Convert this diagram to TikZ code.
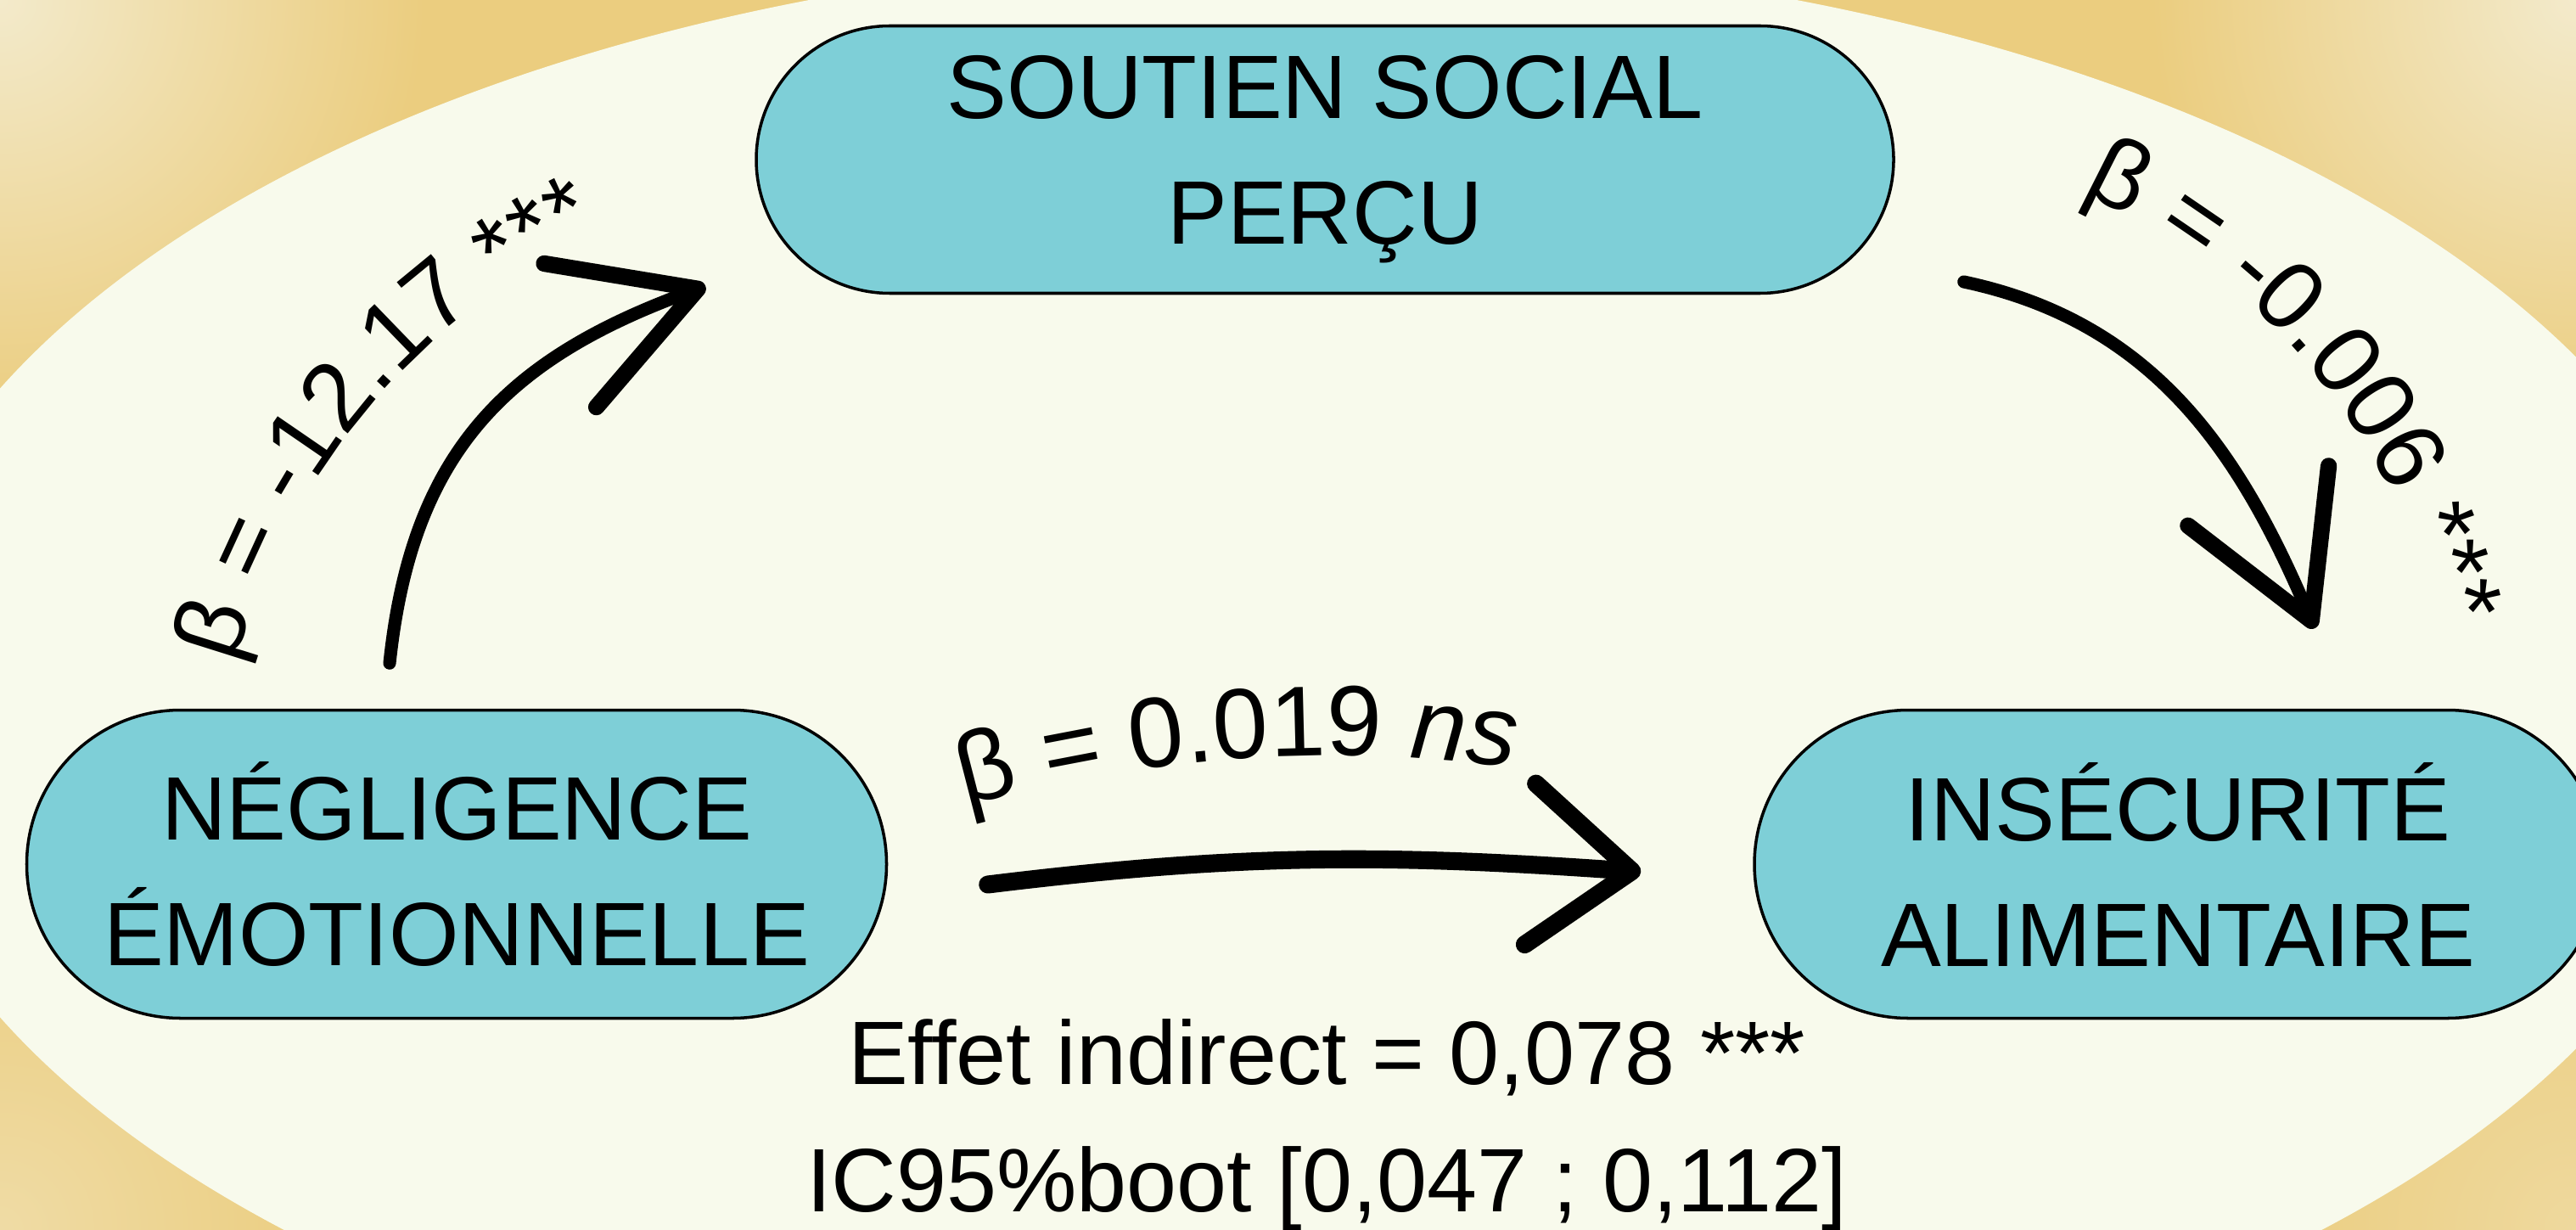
\documentclass[tikz,border=0pt]{standalone}
\usepackage{fontspec}
\setmainfont{Liberation Sans}
\usetikzlibrary{calc,positioning,shapes.misc,arrows.meta,decorations.text}

\definecolor{fondor}{HTML}{EBCD7F}
\definecolor{fondpale}{HTML}{F3EACB}
\definecolor{creme}{HTML}{F8FAEC}
\definecolor{turquoise}{HTML}{7ECFD7}

\newcommand{\boxfont}{\fontsize{30.2}{42.1}\selectfont}
\newcommand{\coefffont}{\fontsize{32.6}{39}\selectfont}
\newcommand{\nsfont}{\fontsize{33.4}{40}\selectfont\itshape}
\newcommand{\betafont}{\fontsize{33.4}{40}\selectfont}

\begin{document}
\begin{tikzpicture}

% \draw[step=1,gray,very thin] (0,0) grid (30,14);

\tikzstyle{mybox} = [rounded rectangle, draw=black, line width=1pt, fill=turquoise, align=center, font=\boxfont, inner sep=0pt]
\tikzstyle{mytext} = [font=\boxfont, inner sep=0pt, anchor=base]
\tikzstyle{myarrow} = [line width=4.3pt, line cap=round, -{Straight Barb[length=1.6cm,width=1.8cm,line width=5.5pt,round]}]
\tikzstyle{mycurve} = [decorate, decoration={text along path, text align=center}]

\useasboundingbox (0,0) rectangle (30.35,14.48);
\clip (0,0) rectangle (30.35,14.48);
\fill [fondor] (0,0) rectangle (30.35,14.48);
\shade [inner color=fondpale, outer color=fondor] (0,14.48) circle (5);
\shade [inner color=fondpale, outer color=fondor] (30.35,14.48) circle (5);
\shade [inner color=fondpale!50!fondor, outer color=fondor] (0,0) circle (4);
\shade [inner color=fondpale!40!fondor, outer color=fondor] (30.35,0) circle (4);
\fill [creme] (15.35,6.20) ellipse [x radius=16.91, y radius=8.815];

\node (neg) [mybox, minimum width=10.13cm, minimum height=3.63cm] at (5.38,4.30) {NÉGLIGENCE\\ÉMOTIONNELLE};
\node (sout) [mybox, minimum width=13.40cm, minimum height=3.15cm] at (15.61,12.60) {SOUTIEN SOCIAL\\PERÇU};
\node (ins) [mybox, minimum width=9.98cm, minimum height=3.63cm] at (25.66,4.30) {INSÉCURITÉ\\ALIMENTAIRE};

\node (effet) [mytext] at (15.63,1.71) {Effet indirect = 0,078 ***};
\node (ic) [mytext, below=1.5cm of effet.base, anchor=base] {IC95\%boot [0,047 ; 0,112]};

\coordinate (t1) at ($(neg.north)+(-0.79,0.535)$);
\coordinate (h1) at ($(sout.west)+(-0.58,-1.49)$);
\coordinate (t2) at ($(sout.east)+(0.81,-1.44)$);
\coordinate (h2) at ($(ins.north)+(1.61,0.945)$);
\coordinate (t3) at ($(neg.east)+(1.175,-0.24)$);
\coordinate (h3) at ($(ins.west)+(-1.32,-0.09)$);

\draw [myarrow] (t1) to[out=84,in=200,looseness=1.1] (h1);
\draw [myarrow] (t2) to[out=-12,in=113] (h2);
\draw [myarrow, line width=6pt, -{Straight Barb[length=1.2cm,width=1.9cm,line width=6pt,round]}] (t3) to[out=7,in=176] (h3);

\coordinate (c1) at (10.40,4.60);
\coordinate (c2) at (21.44,5.37);
\coordinate (c3) at (15.70,-10.42);

\path [mycurve, decoration={text={|\coefffont|β = -12.17 ***}}] ($(c1)+(180:7.9)$) arc [start angle=180, end angle=100, radius=7.9];
\path [mycurve, decoration={text={|\coefffont|β = -0.006 ***}}] ($(c2)+(80:7.5)$) arc [start angle=80, end angle=-1, radius=7.5];
\path [mycurve, decoration={text={|\betafont|β = 0.019 |\nsfont|ns}}] ($(c3)+(115:16)$) arc [start angle=115, end angle=73, radius=16];

\end{tikzpicture}
\end{document}
